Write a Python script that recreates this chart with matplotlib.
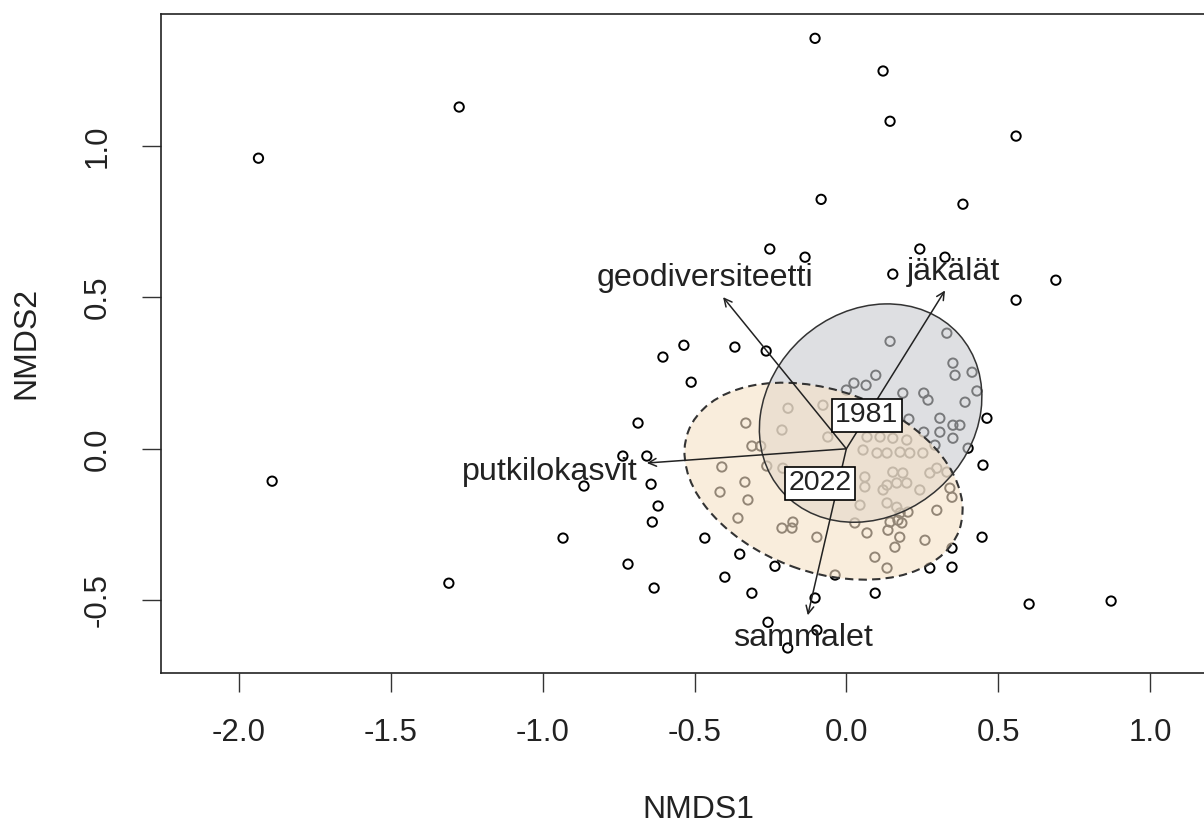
import numpy as np
import matplotlib
matplotlib.use("Agg")
import matplotlib.pyplot as plt
from matplotlib.patches import Ellipse

plt.rcParams["font.family"] = ["Liberation Sans", "DejaVu Sans"]
plt.rcParams["axes.unicode_minus"] = False

# site scores (NMDS1, NMDS2)
nmds1 = [
    -0.103, 0.121, -1.275, 0.144, 0.559, -1.936, -0.083, 0.384, -0.252, -0.136,
    0.242, 0.325, 0.153, 0.690, 0.559, -0.535, -0.604, -0.367, -0.264, -0.511,
    -0.686, 0.463, 0.401, 0.450, -0.736, -0.657, -0.864, -0.643, -0.620, -0.639,
    -0.933, -0.719, -1.309, -0.633, -1.891, -0.466, -0.351, -0.235, -0.400, -0.311,
    -0.103, -0.258, -0.097, -0.193, 0.095, 0.275, 0.348, 0.348, 0.447, 0.602,
    0.872, -0.037, 0.144, 0.331, 0.351, 0.358, 0.414, 0.430, 0.391, 0.097,
    0.065, 0.025, 0.000, 0.186, 0.255, 0.269, 0.308, 0.206, 0.308, 0.351,
    0.374, 0.255, 0.351, 0.292, -0.192, -0.077, -0.331, -0.212, -0.061, 0.068,
    0.111, 0.153, 0.199, 0.055, 0.101, 0.134, 0.177, 0.209, -0.311, -0.282,
    0.252, -0.262, -0.209, -0.334, -0.324, 0.153, 0.186, 0.134, 0.166, 0.199,
    0.121, 0.061, 0.061, 0.242, 0.275, 0.298, 0.331, 0.341, 0.348, 0.045,
    0.134, 0.166, 0.203, 0.177, 0.170, 0.144, 0.183, 0.298, -0.212, -0.179,
    -0.176, 0.028, -0.097, 0.068, 0.137, 0.176, 0.259, 0.160, 0.094, 0.134,
    -0.410, -0.416, -0.357,
]
nmds2 = [
    1.356, 1.248, 1.129, 1.082, 1.033, 0.960, 0.824, 0.808, 0.660, 0.633,
    0.660, 0.633, 0.577, 0.557, 0.491, 0.342, 0.303, 0.336, 0.323, 0.220,
    0.085, 0.101, 0.002, -0.054, -0.024, -0.024, -0.123, -0.117, -0.189, -0.242,
    -0.295, -0.381, -0.444, -0.460, -0.107, -0.295, -0.348, -0.388, -0.424, -0.477,
    -0.493, -0.573, -0.599, -0.658, -0.477, -0.394, -0.391, -0.328, -0.292, -0.513,
    -0.503, -0.417, 0.355, 0.382, 0.283, 0.243, 0.253, 0.191, 0.154, 0.243,
    0.210, 0.217, 0.194, 0.184, 0.184, 0.161, 0.101, 0.098, 0.055, 0.078,
    0.078, 0.055, 0.035, 0.012, 0.134, 0.144, 0.085, 0.062, 0.039, 0.039,
    0.039, 0.035, 0.029, -0.004, -0.014, -0.014, -0.011, -0.014, 0.009, 0.009,
    -0.014, -0.057, -0.064, -0.110, -0.169, -0.077, -0.080, -0.120, -0.113, -0.113,
    -0.136, -0.093, -0.126, -0.136, -0.080, -0.064, -0.077, -0.130, -0.160, -0.186,
    -0.179, -0.193, -0.209, -0.212, -0.236, -0.242, -0.245, -0.203, -0.262, -0.262,
    -0.242, -0.245, -0.292, -0.278, -0.269, -0.292, -0.302, -0.325, -0.358, -0.394,
    -0.060, -0.143, -0.229,
]

# envfit vectors
vec_names = ["geodiversiteetti", "jäkälät", "putkilokasvit", "sammalet"]
vec_x = [-0.406, 0.325, -0.657, -0.127]
vec_y = [0.501, 0.523, -0.047, -0.550]
vec_lab_x = [-0.466, 0.354, -0.976, -0.143]
vec_lab_y = [0.563, 0.583, -0.077, -0.626]

# group ellipses (ordiellipse)
groups = ["1981", "2022"]
ell_cx = [0.080, -0.075]
ell_cy = [0.118, -0.107]
ell_w = [0.78, 0.95]
ell_h = [0.67, 0.60]
ell_angle = [42, -20]
ell_fill = ["#c9cbcf", "#f6e1c6"]
ell_ls = ["-", (0, (4, 2.5))]
ell_lw = [1.1, 1.5]

fig = plt.figure(figsize=(12.04, 8.25), dpi=100)
ax = fig.add_axes([161 / 1204, 1 - 672.5 / 825, (1235 - 161) / 1204, 659 / 825])

ax.scatter(nmds1, nmds2, s=45, facecolors="none", edgecolors="black",
           linewidths=1.4, zorder=2)

for i, g in enumerate(groups):
    ax.add_patch(Ellipse((ell_cx[i], ell_cy[i]), ell_w[i], ell_h[i],
                         angle=ell_angle[i], facecolor=ell_fill[i],
                         edgecolor="none", alpha=0.6, zorder=3))
for i, g in enumerate(groups):
    ax.add_patch(Ellipse((ell_cx[i], ell_cy[i]), ell_w[i], ell_h[i],
                         angle=ell_angle[i], facecolor="none",
                         edgecolor="#333333", lw=ell_lw[i], ls=ell_ls[i], zorder=4))

for i, name in enumerate(vec_names):
    ax.annotate("", xy=(vec_x[i], vec_y[i]), xytext=(0, 0),
                arrowprops=dict(arrowstyle="->", color="#222222", lw=1.1,
                                mutation_scale=14, shrinkA=0, shrinkB=0),
                zorder=5)
    ax.text(vec_lab_x[i], vec_lab_y[i], name, ha="center", va="center",
            fontsize=23.2, color="#222222", zorder=6)

for i, g in enumerate(groups):
    ax.text(ell_cx[i] - 0.012, ell_cy[i] - 0.007, g, ha="center", va="center",
            fontsize=20.5, color="#222222", zorder=7,
            bbox=dict(boxstyle="square,pad=0.12", facecolor="white",
                      edgecolor="black", lw=1.2))

ax.set_xlim(-2.257, 1.280)
ax.set_ylim(-0.739, 1.438)
ax.set_xticks([-2.0, -1.5, -1.0, -0.5, 0.0, 0.5, 1.0])
ax.set_yticks([-0.5, 0.0, 0.5, 1.0])
ax.xaxis.set_major_formatter(matplotlib.ticker.FormatStrFormatter("%.1f"))
ax.yaxis.set_major_formatter(matplotlib.ticker.FormatStrFormatter("%.1f"))
ax.tick_params(axis="both", length=13.5, width=1, labelsize=22.5,
               color="#333333", labelcolor="#222222")
ax.tick_params(axis="x", pad=19)
ax.tick_params(axis="y", pad=21, labelrotation=90)
for lab in ax.get_yticklabels():
    lab.set_va("center")
for sp in ax.spines.values():
    sp.set_linewidth(1.2)
    sp.set_color("#222222")

ax.set_xlabel("NMDS1", fontsize=23, color="#222222", labelpad=34)
ax.set_ylabel("NMDS2", fontsize=23, color="#222222", labelpad=30)

fig.savefig("out.png", dpi=100)
